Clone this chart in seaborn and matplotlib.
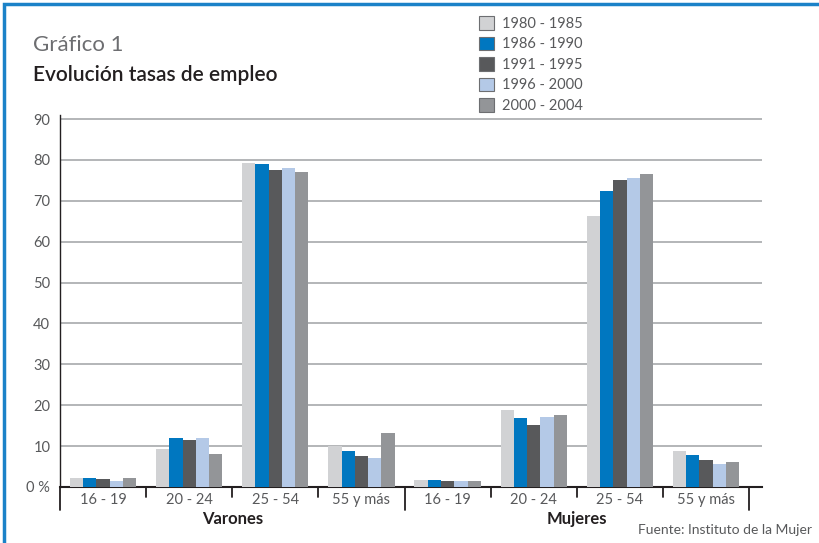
import pandas as pd
import numpy as np
import matplotlib.pyplot as plt
import seaborn as sns
from matplotlib.patches import Rectangle, Patch

# ==============================================================================
# DATA
# ==============================================================================
grupos = ["16 - 19", "20 - 24", "25 - 54", "55 y más"]
sexos = ["Varones", "Mujeres"]
periodos = ["1980 - 1985", "1986 - 1990", "1991 - 1995", "1996 - 2000", "2000 - 2004"]

varones = {
    "1980 - 1985": [2.3, 9.2, 79.3, 10.0],
    "1986 - 1990": [2.3, 12.1, 79.1, 8.7],
    "1991 - 1995": [2.0, 11.4, 77.6, 7.7],
    "1996 - 2000": [1.5, 12.1, 78.1, 7.0],
    "2000 - 2004": [2.3, 8.0, 77.1, 13.1],
}
mujeres = {
    "1980 - 1985": [1.8, 18.8, 66.2, 8.9],
    "1986 - 1990": [1.8, 16.8, 72.3, 7.9],
    "1991 - 1995": [1.5, 15.1, 75.2, 6.7],
    "1996 - 2000": [1.5, 17.1, 75.7, 5.7],
    "2000 - 2004": [1.5, 17.6, 76.6, 6.0],
}
colores = ["#d1d2d4", "#0077c0", "#58595b", "#b4c9e7", "#939598"]

# ==============================================================================
# LONG FORMAT
# ==============================================================================
filas = []
for sexo, tabla in zip(sexos, [varones, mujeres]):
    for periodo in periodos:
        for g, v in zip(grupos, tabla[periodo]):
            filas.append({"cat": f"{sexo} {g}", "grupo": g, "periodo": periodo, "valor": v})
df = pd.DataFrame(filas)
orden = [f"{s} {g}" for s in sexos for g in grupos]

# ==============================================================================
# PLOT
# ==============================================================================
sns.set_style("white")
plt.rcParams['font.family'] = ['Lato', 'DejaVu Sans']
gris_txt = "#58595b"

fig = plt.figure(figsize=(8.19, 5.43), dpi=100)
ax = fig.add_axes([60/819, 56/543, 702/819, 372/543])

sns.barplot(data=df, x="cat", y="valor", hue="periodo", order=orden, hue_order=periodos,
            palette=colores, width=0.77, saturation=1, dodge=True, ax=ax, legend=False,
            linewidth=0, zorder=3)

ax.set_xlim(-0.5, 7.65)
ax.set_ylim(0, 91)
ax.set_yticks(range(0, 100, 10))
ax.set_yticklabels(["0 %"] + [str(v) for v in range(10, 100, 10)], fontsize=10.5, color=gris_txt)
ax.yaxis.grid(True, color="#a7a9ac", linewidth=1.2, zorder=0)
ax.set_axisbelow(True)
ax.tick_params(axis="y", length=0, pad=7)

ax.set_xticks(range(8))
ax.set_xticklabels(grupos * 2, fontsize=10.5, color=gris_txt)
ax.tick_params(axis="x", length=0, pad=4)
ax.set_xlabel("")
ax.set_ylabel("")

for s in ["top", "right"]:
    ax.spines[s].set_visible(False)
ax.spines["left"].set_color("#231f20")
ax.spines["left"].set_linewidth(1.0)
ax.spines["bottom"].set_color("#231f20")
ax.spines["bottom"].set_linewidth(1.5)

# separadores de grupo bajo el eje
trans = ax.get_xaxis_transform()
for i, xb in enumerate(np.arange(-0.5, 8, 1)):
    largo = -23/372 if i in (0, 4, 8) else -10/372
    ax.plot([xb, xb], [0, largo], color="#231f20", lw=1.3, transform=trans, clip_on=False)

ax.text(1.5, -32/372, "Varones", transform=trans, ha="center", va="center",
        fontsize=12, fontweight="bold", color="#231f20")
ax.text(5.5, -32/372, "Mujeres", transform=trans, ha="center", va="center",
        fontsize=12, fontweight="bold", color="#231f20")

# titulos
fig.text(33/819, 1 - 45/543, "Gráfico 1", fontsize=16, color="#6d6e71", va="center")
fig.text(33/819, 1 - 75/543, "Evolución tasas de empleo", fontsize=15, fontweight="semibold",
         color="#231f20", va="center")
fig.text(812/819, 1 - 530/543, "Fuente: Instituto de la Mujer", fontsize=10, color=gris_txt,
         ha="right", va="center")

# leyenda
handles = [Patch(facecolor=c, edgecolor="#6d6e71", linewidth=0.8) for c in colores]
fig.legend(handles, periodos, loc="upper left", bbox_to_anchor=(479/819, 1 - 16/543),
           frameon=False, fontsize=10.5, labelspacing=0.4, handlelength=1.05, handleheight=1.05,
           handletextpad=0.55, labelcolor=gris_txt, borderaxespad=0, borderpad=0)

# marco azul
fig.patches.append(Rectangle((4/819, -0.1), 1.2, 1 - 4/543 + 0.1, transform=fig.transFigure,
                             fill=False, edgecolor="#1b82c8", linewidth=2.5))

plt.savefig("out.png", dpi=100)
plt.close()
